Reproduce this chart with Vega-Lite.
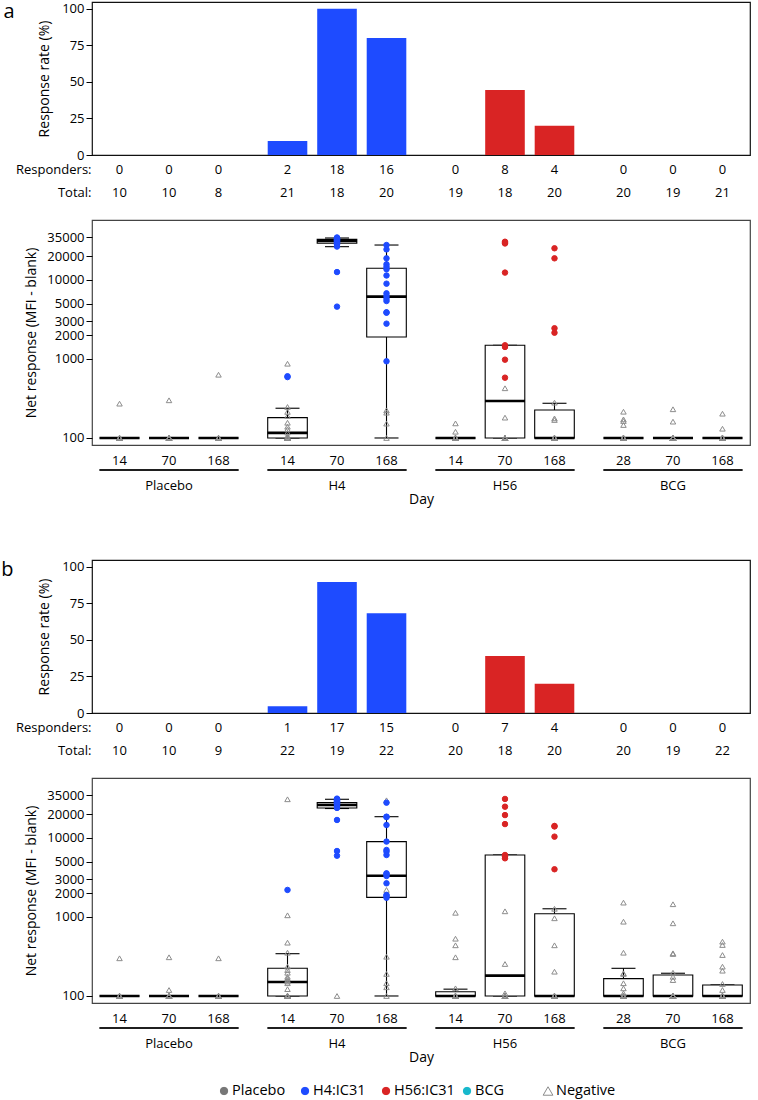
{
"$schema": "https://vega.github.io/schema/vega-lite/v6.json",
"padding": {"left": 0, "top": 1, "right": 0, "bottom": 1},
"background": "white",
"config": {
  "font": "Open Sans",
  "view": {"stroke": "#111", "strokeWidth": 1.2},
  "axis": {"labelFontSize": 13, "titleFontSize": 14, "titleFontWeight": "normal", "labelColor": "black", "titleColor": "black", "tickColor": "black", "domain": false, "grid": false, "labelFont": "Open Sans", "titleFont": "Open Sans"},
  "title": {"fontWeight": "normal", "font": "Open Sans"}
},
"datasets": {
  "leg": [{"c":"Placebo"},{"c":"H4:IC31"},{"c":"H56:IC31"},{"c":"BCG"},{"c":"Negative"}],
  "cats": [
    {"p":"a","g":"Placebo","v":1,"day":"14","r":0,"t":10,"rate":0},
    {"p":"a","g":"Placebo","v":2,"day":"70","r":0,"t":10,"rate":0},
    {"p":"a","g":"Placebo","v":3,"day":"168","r":0,"t":8,"rate":0},
    {"p":"a","g":"H4","v":1,"day":"14","r":2,"t":21,"rate":9.52},
    {"p":"a","g":"H4","v":2,"day":"70","r":18,"t":18,"rate":100},
    {"p":"a","g":"H4","v":3,"day":"168","r":16,"t":20,"rate":80},
    {"p":"a","g":"H56","v":1,"day":"14","r":0,"t":19,"rate":0},
    {"p":"a","g":"H56","v":2,"day":"70","r":8,"t":18,"rate":44.4},
    {"p":"a","g":"H56","v":3,"day":"168","r":4,"t":20,"rate":20},
    {"p":"a","g":"BCG","v":1,"day":"28","r":0,"t":20,"rate":0},
    {"p":"a","g":"BCG","v":2,"day":"70","r":0,"t":19,"rate":0},
    {"p":"a","g":"BCG","v":3,"day":"168","r":0,"t":21,"rate":0},
    {"p":"b","g":"Placebo","v":1,"day":"14","r":0,"t":10,"rate":0},
    {"p":"b","g":"Placebo","v":2,"day":"70","r":0,"t":10,"rate":0},
    {"p":"b","g":"Placebo","v":3,"day":"168","r":0,"t":9,"rate":0},
    {"p":"b","g":"H4","v":1,"day":"14","r":1,"t":22,"rate":4.55},
    {"p":"b","g":"H4","v":2,"day":"70","r":17,"t":19,"rate":89.5},
    {"p":"b","g":"H4","v":3,"day":"168","r":15,"t":22,"rate":68.2},
    {"p":"b","g":"H56","v":1,"day":"14","r":0,"t":20,"rate":0},
    {"p":"b","g":"H56","v":2,"day":"70","r":7,"t":18,"rate":38.9},
    {"p":"b","g":"H56","v":3,"day":"168","r":4,"t":20,"rate":20},
    {"p":"b","g":"BCG","v":1,"day":"28","r":0,"t":20,"rate":0},
    {"p":"b","g":"BCG","v":2,"day":"70","r":0,"t":19,"rate":0},
    {"p":"b","g":"BCG","v":3,"day":"168","r":0,"t":22,"rate":0}
  ],
  "boxes": [
    {"p":"a","g":"Placebo","v":1,"lo":100,"q1":100,"md":100,"q3":100,"hi":100},
    {"p":"a","g":"Placebo","v":2,"lo":100,"q1":100,"md":100,"q3":100,"hi":100},
    {"p":"a","g":"Placebo","v":3,"lo":100,"q1":100,"md":100,"q3":100,"hi":100},
    {"p":"a","g":"H4","v":1,"lo":100,"q1":100,"md":116,"q3":181,"hi":238},
    {"p":"a","g":"H4","v":2,"lo":26400,"q1":29200,"md":31200,"q3":32700,"hi":34000},
    {"p":"a","g":"H4","v":3,"lo":100,"q1":1900,"md":6150,"q3":14100,"hi":27700},
    {"p":"a","g":"H56","v":1,"lo":100,"q1":100,"md":100,"q3":100,"hi":100},
    {"p":"a","g":"H56","v":2,"lo":100,"q1":100,"md":294,"q3":1490,"hi":1490},
    {"p":"a","g":"H56","v":3,"lo":100,"q1":100,"md":100,"q3":226,"hi":275},
    {"p":"a","g":"BCG","v":1,"lo":100,"q1":100,"md":100,"q3":100,"hi":100},
    {"p":"a","g":"BCG","v":2,"lo":100,"q1":100,"md":100,"q3":100,"hi":100},
    {"p":"a","g":"BCG","v":3,"lo":100,"q1":100,"md":100,"q3":100,"hi":100},
    {"p":"b","g":"Placebo","v":1,"lo":100,"q1":100,"md":100,"q3":100,"hi":100},
    {"p":"b","g":"Placebo","v":2,"lo":100,"q1":100,"md":100,"q3":100,"hi":100},
    {"p":"b","g":"Placebo","v":3,"lo":100,"q1":100,"md":100,"q3":100,"hi":100},
    {"p":"b","g":"H4","v":1,"lo":100,"q1":100,"md":150,"q3":224,"hi":343},
    {"p":"b","g":"H4","v":2,"lo":23600,"q1":24000,"md":26200,"q3":28000,"hi":30900},
    {"p":"b","g":"H4","v":3,"lo":100,"q1":1770,"md":3330,"q3":9000,"hi":18600},
    {"p":"b","g":"H56","v":1,"lo":100,"q1":100,"md":100,"q3":113,"hi":122},
    {"p":"b","g":"H56","v":2,"lo":100,"q1":100,"md":181,"q3":6090,"hi":6090},
    {"p":"b","g":"H56","v":3,"lo":100,"q1":100,"md":100,"q3":1100,"hi":1270},
    {"p":"b","g":"BCG","v":1,"lo":100,"q1":100,"md":100,"q3":166,"hi":224},
    {"p":"b","g":"BCG","v":2,"lo":100,"q1":100,"md":100,"q3":184,"hi":194},
    {"p":"b","g":"BCG","v":3,"lo":100,"q1":100,"md":100,"q3":138,"hi":138}
  ],
  "pts": [
    {"p":"a","g":"Placebo","v":1,"y":272,"c":"Negative"},
    {"p":"a","g":"Placebo","v":1,"y":100,"c":"Negative"},{"p":"a","g":"Placebo","v":1,"y":100,"c":"Negative"},{"p":"a","g":"Placebo","v":1,"y":100,"c":"Negative"},{"p":"a","g":"Placebo","v":1,"y":100,"c":"Negative"},{"p":"a","g":"Placebo","v":1,"y":100,"c":"Negative"},{"p":"a","g":"Placebo","v":1,"y":100,"c":"Negative"},{"p":"a","g":"Placebo","v":1,"y":100,"c":"Negative"},{"p":"a","g":"Placebo","v":1,"y":100,"c":"Negative"},{"p":"a","g":"Placebo","v":1,"y":100,"c":"Negative"},
    {"p":"a","g":"Placebo","v":2,"y":300,"c":"Negative"},
    {"p":"a","g":"Placebo","v":2,"y":100,"c":"Negative"},{"p":"a","g":"Placebo","v":2,"y":100,"c":"Negative"},{"p":"a","g":"Placebo","v":2,"y":100,"c":"Negative"},{"p":"a","g":"Placebo","v":2,"y":100,"c":"Negative"},{"p":"a","g":"Placebo","v":2,"y":100,"c":"Negative"},{"p":"a","g":"Placebo","v":2,"y":100,"c":"Negative"},{"p":"a","g":"Placebo","v":2,"y":100,"c":"Negative"},{"p":"a","g":"Placebo","v":2,"y":100,"c":"Negative"},{"p":"a","g":"Placebo","v":2,"y":100,"c":"Negative"},
    {"p":"a","g":"Placebo","v":3,"y":632,"c":"Negative"},
    {"p":"a","g":"Placebo","v":3,"y":100,"c":"Negative"},{"p":"a","g":"Placebo","v":3,"y":100,"c":"Negative"},{"p":"a","g":"Placebo","v":3,"y":100,"c":"Negative"},{"p":"a","g":"Placebo","v":3,"y":100,"c":"Negative"},{"p":"a","g":"Placebo","v":3,"y":100,"c":"Negative"},{"p":"a","g":"Placebo","v":3,"y":100,"c":"Negative"},{"p":"a","g":"Placebo","v":3,"y":100,"c":"Negative"},
    {"p":"a","g":"H4","v":1,"y":871,"c":"Negative"},{"p":"a","g":"H4","v":1,"y":247,"c":"Negative"},{"p":"a","g":"H4","v":1,"y":214,"c":"Negative"},{"p":"a","g":"H4","v":1,"y":190,"c":"Negative"},{"p":"a","g":"H4","v":1,"y":156,"c":"Negative"},{"p":"a","g":"H4","v":1,"y":139,"c":"Negative"},{"p":"a","g":"H4","v":1,"y":129,"c":"Negative"},{"p":"a","g":"H4","v":1,"y":117,"c":"Negative"},{"p":"a","g":"H4","v":1,"y":106,"c":"Negative"},
    {"p":"a","g":"H4","v":1,"y":100,"c":"Negative"},{"p":"a","g":"H4","v":1,"y":100,"c":"Negative"},{"p":"a","g":"H4","v":1,"y":100,"c":"Negative"},{"p":"a","g":"H4","v":1,"y":100,"c":"Negative"},{"p":"a","g":"H4","v":1,"y":100,"c":"Negative"},{"p":"a","g":"H4","v":1,"y":100,"c":"Negative"},{"p":"a","g":"H4","v":1,"y":100,"c":"Negative"},{"p":"a","g":"H4","v":1,"y":100,"c":"Negative"},{"p":"a","g":"H4","v":1,"y":100,"c":"Negative"},{"p":"a","g":"H4","v":1,"y":100,"c":"Negative"},
    {"p":"a","g":"H4","v":1,"y":590,"c":"H4:IC31"},{"p":"a","g":"H4","v":1,"y":605,"c":"H4:IC31"},
    {"p":"a","g":"H4","v":2,"y":34500,"c":"H4:IC31"},{"p":"a","g":"H4","v":2,"y":34000,"c":"H4:IC31"},{"p":"a","g":"H4","v":2,"y":33500,"c":"H4:IC31"},{"p":"a","g":"H4","v":2,"y":33000,"c":"H4:IC31"},{"p":"a","g":"H4","v":2,"y":33000,"c":"H4:IC31"},{"p":"a","g":"H4","v":2,"y":32500,"c":"H4:IC31"},{"p":"a","g":"H4","v":2,"y":32000,"c":"H4:IC31"},{"p":"a","g":"H4","v":2,"y":32000,"c":"H4:IC31"},{"p":"a","g":"H4","v":2,"y":31500,"c":"H4:IC31"},{"p":"a","g":"H4","v":2,"y":31000,"c":"H4:IC31"},{"p":"a","g":"H4","v":2,"y":30500,"c":"H4:IC31"},{"p":"a","g":"H4","v":2,"y":30000,"c":"H4:IC31"},{"p":"a","g":"H4","v":2,"y":29500,"c":"H4:IC31"},{"p":"a","g":"H4","v":2,"y":29000,"c":"H4:IC31"},{"p":"a","g":"H4","v":2,"y":28000,"c":"H4:IC31"},{"p":"a","g":"H4","v":2,"y":26500,"c":"H4:IC31"},{"p":"a","g":"H4","v":2,"y":12600,"c":"H4:IC31"},{"p":"a","g":"H4","v":2,"y":4600,"c":"H4:IC31"},
    {"p":"a","g":"H4","v":3,"y":224,"c":"Negative"},{"p":"a","g":"H4","v":3,"y":209,"c":"Negative"},{"p":"a","g":"H4","v":3,"y":152,"c":"Negative"},{"p":"a","g":"H4","v":3,"y":100,"c":"Negative"},
    {"p":"a","g":"H4","v":3,"y":27700,"c":"H4:IC31"},{"p":"a","g":"H4","v":3,"y":24400,"c":"H4:IC31"},{"p":"a","g":"H4","v":3,"y":18800,"c":"H4:IC31"},{"p":"a","g":"H4","v":3,"y":15800,"c":"H4:IC31"},{"p":"a","g":"H4","v":3,"y":14700,"c":"H4:IC31"},{"p":"a","g":"H4","v":3,"y":13700,"c":"H4:IC31"},{"p":"a","g":"H4","v":3,"y":11400,"c":"H4:IC31"},{"p":"a","g":"H4","v":3,"y":8980,"c":"H4:IC31"},{"p":"a","g":"H4","v":3,"y":6780,"c":"H4:IC31"},{"p":"a","g":"H4","v":3,"y":6270,"c":"H4:IC31"},{"p":"a","g":"H4","v":3,"y":5800,"c":"H4:IC31"},{"p":"a","g":"H4","v":3,"y":5420,"c":"H4:IC31"},{"p":"a","g":"H4","v":3,"y":3900,"c":"H4:IC31"},{"p":"a","g":"H4","v":3,"y":3850,"c":"H4:IC31"},{"p":"a","g":"H4","v":3,"y":2800,"c":"H4:IC31"},{"p":"a","g":"H4","v":3,"y":935,"c":"H4:IC31"},
    {"p":"a","g":"H56","v":1,"y":153,"c":"Negative"},{"p":"a","g":"H56","v":1,"y":120,"c":"Negative"},
    {"p":"a","g":"H56","v":1,"y":100,"c":"Negative"},{"p":"a","g":"H56","v":1,"y":100,"c":"Negative"},{"p":"a","g":"H56","v":1,"y":100,"c":"Negative"},{"p":"a","g":"H56","v":1,"y":100,"c":"Negative"},{"p":"a","g":"H56","v":1,"y":100,"c":"Negative"},{"p":"a","g":"H56","v":1,"y":100,"c":"Negative"},{"p":"a","g":"H56","v":1,"y":100,"c":"Negative"},{"p":"a","g":"H56","v":1,"y":100,"c":"Negative"},{"p":"a","g":"H56","v":1,"y":100,"c":"Negative"},{"p":"a","g":"H56","v":1,"y":100,"c":"Negative"},{"p":"a","g":"H56","v":1,"y":100,"c":"Negative"},{"p":"a","g":"H56","v":1,"y":100,"c":"Negative"},{"p":"a","g":"H56","v":1,"y":100,"c":"Negative"},{"p":"a","g":"H56","v":1,"y":100,"c":"Negative"},{"p":"a","g":"H56","v":1,"y":100,"c":"Negative"},{"p":"a","g":"H56","v":1,"y":100,"c":"Negative"},{"p":"a","g":"H56","v":1,"y":100,"c":"Negative"},
    {"p":"a","g":"H56","v":2,"y":426,"c":"Negative"},{"p":"a","g":"H56","v":2,"y":181,"c":"Negative"},
    {"p":"a","g":"H56","v":2,"y":100,"c":"Negative"},{"p":"a","g":"H56","v":2,"y":100,"c":"Negative"},{"p":"a","g":"H56","v":2,"y":100,"c":"Negative"},{"p":"a","g":"H56","v":2,"y":100,"c":"Negative"},{"p":"a","g":"H56","v":2,"y":100,"c":"Negative"},{"p":"a","g":"H56","v":2,"y":100,"c":"Negative"},{"p":"a","g":"H56","v":2,"y":100,"c":"Negative"},{"p":"a","g":"H56","v":2,"y":100,"c":"Negative"},
    {"p":"a","g":"H56","v":2,"y":30500,"c":"H56:IC31"},{"p":"a","g":"H56","v":2,"y":29700,"c":"H56:IC31"},{"p":"a","g":"H56","v":2,"y":29000,"c":"H56:IC31"},{"p":"a","g":"H56","v":2,"y":12400,"c":"H56:IC31"},{"p":"a","g":"H56","v":2,"y":1490,"c":"H56:IC31"},{"p":"a","g":"H56","v":2,"y":1420,"c":"H56:IC31"},{"p":"a","g":"H56","v":2,"y":980,"c":"H56:IC31"},{"p":"a","g":"H56","v":2,"y":580,"c":"H56:IC31"},
    {"p":"a","g":"H56","v":3,"y":280,"c":"Negative"},{"p":"a","g":"H56","v":3,"y":177,"c":"Negative"},{"p":"a","g":"H56","v":3,"y":169,"c":"Negative"},
    {"p":"a","g":"H56","v":3,"y":100,"c":"Negative"},{"p":"a","g":"H56","v":3,"y":100,"c":"Negative"},{"p":"a","g":"H56","v":3,"y":100,"c":"Negative"},{"p":"a","g":"H56","v":3,"y":100,"c":"Negative"},{"p":"a","g":"H56","v":3,"y":100,"c":"Negative"},{"p":"a","g":"H56","v":3,"y":100,"c":"Negative"},{"p":"a","g":"H56","v":3,"y":100,"c":"Negative"},{"p":"a","g":"H56","v":3,"y":100,"c":"Negative"},{"p":"a","g":"H56","v":3,"y":100,"c":"Negative"},{"p":"a","g":"H56","v":3,"y":100,"c":"Negative"},{"p":"a","g":"H56","v":3,"y":100,"c":"Negative"},{"p":"a","g":"H56","v":3,"y":100,"c":"Negative"},{"p":"a","g":"H56","v":3,"y":100,"c":"Negative"},
    {"p":"a","g":"H56","v":3,"y":25200,"c":"H56:IC31"},{"p":"a","g":"H56","v":3,"y":18800,"c":"H56:IC31"},{"p":"a","g":"H56","v":3,"y":2450,"c":"H56:IC31"},{"p":"a","g":"H56","v":3,"y":2150,"c":"H56:IC31"},
    {"p":"a","g":"BCG","v":1,"y":215,"c":"Negative"},{"p":"a","g":"BCG","v":1,"y":172,"c":"Negative"},{"p":"a","g":"BCG","v":1,"y":164,"c":"Negative"},{"p":"a","g":"BCG","v":1,"y":146,"c":"Negative"},
    {"p":"a","g":"BCG","v":1,"y":100,"c":"Negative"},{"p":"a","g":"BCG","v":1,"y":100,"c":"Negative"},{"p":"a","g":"BCG","v":1,"y":100,"c":"Negative"},{"p":"a","g":"BCG","v":1,"y":100,"c":"Negative"},{"p":"a","g":"BCG","v":1,"y":100,"c":"Negative"},{"p":"a","g":"BCG","v":1,"y":100,"c":"Negative"},{"p":"a","g":"BCG","v":1,"y":100,"c":"Negative"},{"p":"a","g":"BCG","v":1,"y":100,"c":"Negative"},{"p":"a","g":"BCG","v":1,"y":100,"c":"Negative"},{"p":"a","g":"BCG","v":1,"y":100,"c":"Negative"},{"p":"a","g":"BCG","v":1,"y":100,"c":"Negative"},{"p":"a","g":"BCG","v":1,"y":100,"c":"Negative"},{"p":"a","g":"BCG","v":1,"y":100,"c":"Negative"},{"p":"a","g":"BCG","v":1,"y":100,"c":"Negative"},{"p":"a","g":"BCG","v":1,"y":100,"c":"Negative"},{"p":"a","g":"BCG","v":1,"y":100,"c":"Negative"},
    {"p":"a","g":"BCG","v":2,"y":231,"c":"Negative"},{"p":"a","g":"BCG","v":2,"y":161,"c":"Negative"},
    {"p":"a","g":"BCG","v":2,"y":100,"c":"Negative"},{"p":"a","g":"BCG","v":2,"y":100,"c":"Negative"},{"p":"a","g":"BCG","v":2,"y":100,"c":"Negative"},{"p":"a","g":"BCG","v":2,"y":100,"c":"Negative"},{"p":"a","g":"BCG","v":2,"y":100,"c":"Negative"},{"p":"a","g":"BCG","v":2,"y":100,"c":"Negative"},{"p":"a","g":"BCG","v":2,"y":100,"c":"Negative"},{"p":"a","g":"BCG","v":2,"y":100,"c":"Negative"},{"p":"a","g":"BCG","v":2,"y":100,"c":"Negative"},{"p":"a","g":"BCG","v":2,"y":100,"c":"Negative"},{"p":"a","g":"BCG","v":2,"y":100,"c":"Negative"},{"p":"a","g":"BCG","v":2,"y":100,"c":"Negative"},{"p":"a","g":"BCG","v":2,"y":100,"c":"Negative"},{"p":"a","g":"BCG","v":2,"y":100,"c":"Negative"},{"p":"a","g":"BCG","v":2,"y":100,"c":"Negative"},{"p":"a","g":"BCG","v":2,"y":100,"c":"Negative"},{"p":"a","g":"BCG","v":2,"y":100,"c":"Negative"},
    {"p":"a","g":"BCG","v":3,"y":203,"c":"Negative"},{"p":"a","g":"BCG","v":3,"y":131,"c":"Negative"},
    {"p":"a","g":"BCG","v":3,"y":100,"c":"Negative"},{"p":"a","g":"BCG","v":3,"y":100,"c":"Negative"},{"p":"a","g":"BCG","v":3,"y":100,"c":"Negative"},{"p":"a","g":"BCG","v":3,"y":100,"c":"Negative"},{"p":"a","g":"BCG","v":3,"y":100,"c":"Negative"},{"p":"a","g":"BCG","v":3,"y":100,"c":"Negative"},{"p":"a","g":"BCG","v":3,"y":100,"c":"Negative"},{"p":"a","g":"BCG","v":3,"y":100,"c":"Negative"},{"p":"a","g":"BCG","v":3,"y":100,"c":"Negative"},{"p":"a","g":"BCG","v":3,"y":100,"c":"Negative"},{"p":"a","g":"BCG","v":3,"y":100,"c":"Negative"},{"p":"a","g":"BCG","v":3,"y":100,"c":"Negative"},{"p":"a","g":"BCG","v":3,"y":100,"c":"Negative"},{"p":"a","g":"BCG","v":3,"y":100,"c":"Negative"},{"p":"a","g":"BCG","v":3,"y":100,"c":"Negative"},{"p":"a","g":"BCG","v":3,"y":100,"c":"Negative"},{"p":"a","g":"BCG","v":3,"y":100,"c":"Negative"},{"p":"a","g":"BCG","v":3,"y":100,"c":"Negative"},{"p":"a","g":"BCG","v":3,"y":100,"c":"Negative"},

    {"p":"b","g":"Placebo","v":1,"y":300,"c":"Negative"},
    {"p":"b","g":"Placebo","v":1,"y":100,"c":"Negative"},{"p":"b","g":"Placebo","v":1,"y":100,"c":"Negative"},{"p":"b","g":"Placebo","v":1,"y":100,"c":"Negative"},{"p":"b","g":"Placebo","v":1,"y":100,"c":"Negative"},{"p":"b","g":"Placebo","v":1,"y":100,"c":"Negative"},{"p":"b","g":"Placebo","v":1,"y":100,"c":"Negative"},{"p":"b","g":"Placebo","v":1,"y":100,"c":"Negative"},{"p":"b","g":"Placebo","v":1,"y":100,"c":"Negative"},{"p":"b","g":"Placebo","v":1,"y":100,"c":"Negative"},
    {"p":"b","g":"Placebo","v":2,"y":309,"c":"Negative"},{"p":"b","g":"Placebo","v":2,"y":119,"c":"Negative"},
    {"p":"b","g":"Placebo","v":2,"y":100,"c":"Negative"},{"p":"b","g":"Placebo","v":2,"y":100,"c":"Negative"},{"p":"b","g":"Placebo","v":2,"y":100,"c":"Negative"},{"p":"b","g":"Placebo","v":2,"y":100,"c":"Negative"},{"p":"b","g":"Placebo","v":2,"y":100,"c":"Negative"},{"p":"b","g":"Placebo","v":2,"y":100,"c":"Negative"},{"p":"b","g":"Placebo","v":2,"y":100,"c":"Negative"},{"p":"b","g":"Placebo","v":2,"y":100,"c":"Negative"},
    {"p":"b","g":"Placebo","v":3,"y":300,"c":"Negative"},
    {"p":"b","g":"Placebo","v":3,"y":100,"c":"Negative"},{"p":"b","g":"Placebo","v":3,"y":100,"c":"Negative"},{"p":"b","g":"Placebo","v":3,"y":100,"c":"Negative"},{"p":"b","g":"Placebo","v":3,"y":100,"c":"Negative"},{"p":"b","g":"Placebo","v":3,"y":100,"c":"Negative"},{"p":"b","g":"Placebo","v":3,"y":100,"c":"Negative"},{"p":"b","g":"Placebo","v":3,"y":100,"c":"Negative"},{"p":"b","g":"Placebo","v":3,"y":100,"c":"Negative"},
    {"p":"b","g":"H4","v":1,"y":30900,"c":"Negative"},{"p":"b","g":"H4","v":1,"y":1050,"c":"Negative"},{"p":"b","g":"H4","v":1,"y":473,"c":"Negative"},{"p":"b","g":"H4","v":1,"y":353,"c":"Negative"},{"p":"b","g":"H4","v":1,"y":235,"c":"Negative"},{"p":"b","g":"H4","v":1,"y":213,"c":"Negative"},{"p":"b","g":"H4","v":1,"y":197,"c":"Negative"},{"p":"b","g":"H4","v":1,"y":175,"c":"Negative"},{"p":"b","g":"H4","v":1,"y":167,"c":"Negative"},{"p":"b","g":"H4","v":1,"y":159,"c":"Negative"},{"p":"b","g":"H4","v":1,"y":152,"c":"Negative"},{"p":"b","g":"H4","v":1,"y":145,"c":"Negative"},{"p":"b","g":"H4","v":1,"y":122,"c":"Negative"},
    {"p":"b","g":"H4","v":1,"y":100,"c":"Negative"},{"p":"b","g":"H4","v":1,"y":100,"c":"Negative"},{"p":"b","g":"H4","v":1,"y":100,"c":"Negative"},{"p":"b","g":"H4","v":1,"y":100,"c":"Negative"},{"p":"b","g":"H4","v":1,"y":100,"c":"Negative"},{"p":"b","g":"H4","v":1,"y":100,"c":"Negative"},{"p":"b","g":"H4","v":1,"y":100,"c":"Negative"},{"p":"b","g":"H4","v":1,"y":100,"c":"Negative"},
    {"p":"b","g":"H4","v":1,"y":2200,"c":"H4:IC31"},
    {"p":"b","g":"H4","v":2,"y":31000,"c":"Negative"},{"p":"b","g":"H4","v":2,"y":100,"c":"Negative"},
    {"p":"b","g":"H4","v":2,"y":31500,"c":"H4:IC31"},{"p":"b","g":"H4","v":2,"y":31000,"c":"H4:IC31"},{"p":"b","g":"H4","v":2,"y":30500,"c":"H4:IC31"},{"p":"b","g":"H4","v":2,"y":30000,"c":"H4:IC31"},{"p":"b","g":"H4","v":2,"y":29500,"c":"H4:IC31"},{"p":"b","g":"H4","v":2,"y":29000,"c":"H4:IC31"},{"p":"b","g":"H4","v":2,"y":28500,"c":"H4:IC31"},{"p":"b","g":"H4","v":2,"y":28000,"c":"H4:IC31"},{"p":"b","g":"H4","v":2,"y":27500,"c":"H4:IC31"},{"p":"b","g":"H4","v":2,"y":27000,"c":"H4:IC31"},{"p":"b","g":"H4","v":2,"y":26500,"c":"H4:IC31"},{"p":"b","g":"H4","v":2,"y":26000,"c":"H4:IC31"},{"p":"b","g":"H4","v":2,"y":25000,"c":"H4:IC31"},{"p":"b","g":"H4","v":2,"y":24000,"c":"H4:IC31"},{"p":"b","g":"H4","v":2,"y":16900,"c":"H4:IC31"},{"p":"b","g":"H4","v":2,"y":6840,"c":"H4:IC31"},{"p":"b","g":"H4","v":2,"y":5970,"c":"H4:IC31"},
    {"p":"b","g":"H4","v":3,"y":30000,"c":"Negative"},{"p":"b","g":"H4","v":3,"y":2200,"c":"Negative"},{"p":"b","g":"H4","v":3,"y":314,"c":"Negative"},{"p":"b","g":"H4","v":3,"y":190,"c":"Negative"},{"p":"b","g":"H4","v":3,"y":145,"c":"Negative"},{"p":"b","g":"H4","v":3,"y":129,"c":"Negative"},{"p":"b","g":"H4","v":3,"y":100,"c":"Negative"},
    {"p":"b","g":"H4","v":3,"y":28000,"c":"H4:IC31"},{"p":"b","g":"H4","v":3,"y":18600,"c":"H4:IC31"},{"p":"b","g":"H4","v":3,"y":18400,"c":"H4:IC31"},{"p":"b","g":"H4","v":3,"y":14600,"c":"H4:IC31"},{"p":"b","g":"H4","v":3,"y":9000,"c":"H4:IC31"},{"p":"b","g":"H4","v":3,"y":7050,"c":"H4:IC31"},{"p":"b","g":"H4","v":3,"y":6710,"c":"H4:IC31"},{"p":"b","g":"H4","v":3,"y":6090,"c":"H4:IC31"},{"p":"b","g":"H4","v":3,"y":3570,"c":"H4:IC31"},{"p":"b","g":"H4","v":3,"y":3500,"c":"H4:IC31"},{"p":"b","g":"H4","v":3,"y":3300,"c":"H4:IC31"},{"p":"b","g":"H4","v":3,"y":2670,"c":"H4:IC31"},{"p":"b","g":"H4","v":3,"y":1900,"c":"H4:IC31"},{"p":"b","g":"H4","v":3,"y":1850,"c":"H4:IC31"},{"p":"b","g":"H4","v":3,"y":1750,"c":"H4:IC31"},
    {"p":"b","g":"H56","v":1,"y":1130,"c":"Negative"},{"p":"b","g":"H56","v":1,"y":531,"c":"Negative"},{"p":"b","g":"H56","v":1,"y":438,"c":"Negative"},{"p":"b","g":"H56","v":1,"y":309,"c":"Negative"},{"p":"b","g":"H56","v":1,"y":125,"c":"Negative"},
    {"p":"b","g":"H56","v":1,"y":100,"c":"Negative"},{"p":"b","g":"H56","v":1,"y":100,"c":"Negative"},{"p":"b","g":"H56","v":1,"y":100,"c":"Negative"},{"p":"b","g":"H56","v":1,"y":100,"c":"Negative"},{"p":"b","g":"H56","v":1,"y":100,"c":"Negative"},{"p":"b","g":"H56","v":1,"y":100,"c":"Negative"},{"p":"b","g":"H56","v":1,"y":100,"c":"Negative"},{"p":"b","g":"H56","v":1,"y":100,"c":"Negative"},{"p":"b","g":"H56","v":1,"y":100,"c":"Negative"},{"p":"b","g":"H56","v":1,"y":100,"c":"Negative"},{"p":"b","g":"H56","v":1,"y":100,"c":"Negative"},{"p":"b","g":"H56","v":1,"y":100,"c":"Negative"},{"p":"b","g":"H56","v":1,"y":100,"c":"Negative"},{"p":"b","g":"H56","v":1,"y":100,"c":"Negative"},{"p":"b","g":"H56","v":1,"y":100,"c":"Negative"},
    {"p":"b","g":"H56","v":2,"y":1180,"c":"Negative"},{"p":"b","g":"H56","v":2,"y":254,"c":"Negative"},{"p":"b","g":"H56","v":2,"y":108,"c":"Negative"},
    {"p":"b","g":"H56","v":2,"y":100,"c":"Negative"},{"p":"b","g":"H56","v":2,"y":100,"c":"Negative"},{"p":"b","g":"H56","v":2,"y":100,"c":"Negative"},{"p":"b","g":"H56","v":2,"y":100,"c":"Negative"},{"p":"b","g":"H56","v":2,"y":100,"c":"Negative"},{"p":"b","g":"H56","v":2,"y":100,"c":"Negative"},{"p":"b","g":"H56","v":2,"y":100,"c":"Negative"},{"p":"b","g":"H56","v":2,"y":100,"c":"Negative"},
    {"p":"b","g":"H56","v":2,"y":31200,"c":"H56:IC31"},{"p":"b","g":"H56","v":2,"y":24900,"c":"H56:IC31"},{"p":"b","g":"H56","v":2,"y":19500,"c":"H56:IC31"},{"p":"b","g":"H56","v":2,"y":15000,"c":"H56:IC31"},{"p":"b","g":"H56","v":2,"y":6090,"c":"H56:IC31"},{"p":"b","g":"H56","v":2,"y":5800,"c":"H56:IC31"},{"p":"b","g":"H56","v":2,"y":5530,"c":"H56:IC31"},
    {"p":"b","g":"H56","v":3,"y":1270,"c":"Negative"},{"p":"b","g":"H56","v":3,"y":963,"c":"Negative"},{"p":"b","g":"H56","v":3,"y":438,"c":"Negative"},{"p":"b","g":"H56","v":3,"y":203,"c":"Negative"},
    {"p":"b","g":"H56","v":3,"y":100,"c":"Negative"},{"p":"b","g":"H56","v":3,"y":100,"c":"Negative"},{"p":"b","g":"H56","v":3,"y":100,"c":"Negative"},{"p":"b","g":"H56","v":3,"y":100,"c":"Negative"},{"p":"b","g":"H56","v":3,"y":100,"c":"Negative"},{"p":"b","g":"H56","v":3,"y":100,"c":"Negative"},{"p":"b","g":"H56","v":3,"y":100,"c":"Negative"},{"p":"b","g":"H56","v":3,"y":100,"c":"Negative"},{"p":"b","g":"H56","v":3,"y":100,"c":"Negative"},{"p":"b","g":"H56","v":3,"y":100,"c":"Negative"},{"p":"b","g":"H56","v":3,"y":100,"c":"Negative"},{"p":"b","g":"H56","v":3,"y":100,"c":"Negative"},
    {"p":"b","g":"H56","v":3,"y":14200,"c":"H56:IC31"},{"p":"b","g":"H56","v":3,"y":14000,"c":"H56:IC31"},{"p":"b","g":"H56","v":3,"y":10400,"c":"H56:IC31"},{"p":"b","g":"H56","v":3,"y":4020,"c":"H56:IC31"},
    {"p":"b","g":"BCG","v":1,"y":1520,"c":"Negative"},{"p":"b","g":"BCG","v":1,"y":872,"c":"Negative"},{"p":"b","g":"BCG","v":1,"y":353,"c":"Negative"},{"p":"b","g":"BCG","v":1,"y":194,"c":"Negative"},{"p":"b","g":"BCG","v":1,"y":190,"c":"Negative"},{"p":"b","g":"BCG","v":1,"y":145,"c":"Negative"},{"p":"b","g":"BCG","v":1,"y":125,"c":"Negative"},{"p":"b","g":"BCG","v":1,"y":108,"c":"Negative"},
    {"p":"b","g":"BCG","v":1,"y":100,"c":"Negative"},{"p":"b","g":"BCG","v":1,"y":100,"c":"Negative"},{"p":"b","g":"BCG","v":1,"y":100,"c":"Negative"},{"p":"b","g":"BCG","v":1,"y":100,"c":"Negative"},{"p":"b","g":"BCG","v":1,"y":100,"c":"Negative"},{"p":"b","g":"BCG","v":1,"y":100,"c":"Negative"},{"p":"b","g":"BCG","v":1,"y":100,"c":"Negative"},{"p":"b","g":"BCG","v":1,"y":100,"c":"Negative"},{"p":"b","g":"BCG","v":1,"y":100,"c":"Negative"},{"p":"b","g":"BCG","v":1,"y":100,"c":"Negative"},{"p":"b","g":"BCG","v":1,"y":100,"c":"Negative"},{"p":"b","g":"BCG","v":1,"y":100,"c":"Negative"},
    {"p":"b","g":"BCG","v":2,"y":1450,"c":"Negative"},{"p":"b","g":"BCG","v":2,"y":832,"c":"Negative"},{"p":"b","g":"BCG","v":2,"y":347,"c":"Negative"},{"p":"b","g":"BCG","v":2,"y":340,"c":"Negative"},{"p":"b","g":"BCG","v":2,"y":197,"c":"Negative"},{"p":"b","g":"BCG","v":2,"y":175,"c":"Negative"},{"p":"b","g":"BCG","v":2,"y":159,"c":"Negative"},
    {"p":"b","g":"BCG","v":2,"y":100,"c":"Negative"},{"p":"b","g":"BCG","v":2,"y":100,"c":"Negative"},{"p":"b","g":"BCG","v":2,"y":100,"c":"Negative"},{"p":"b","g":"BCG","v":2,"y":100,"c":"Negative"},{"p":"b","g":"BCG","v":2,"y":100,"c":"Negative"},{"p":"b","g":"BCG","v":2,"y":100,"c":"Negative"},{"p":"b","g":"BCG","v":2,"y":100,"c":"Negative"},{"p":"b","g":"BCG","v":2,"y":100,"c":"Negative"},{"p":"b","g":"BCG","v":2,"y":100,"c":"Negative"},{"p":"b","g":"BCG","v":2,"y":100,"c":"Negative"},{"p":"b","g":"BCG","v":2,"y":100,"c":"Negative"},{"p":"b","g":"BCG","v":2,"y":100,"c":"Negative"},
    {"p":"b","g":"BCG","v":3,"y":487,"c":"Negative"},{"p":"b","g":"BCG","v":3,"y":442,"c":"Negative"},{"p":"b","g":"BCG","v":3,"y":330,"c":"Negative"},{"p":"b","g":"BCG","v":3,"y":235,"c":"Negative"},{"p":"b","g":"BCG","v":3,"y":209,"c":"Negative"},{"p":"b","g":"BCG","v":3,"y":142,"c":"Negative"},{"p":"b","g":"BCG","v":3,"y":119,"c":"Negative"},
    {"p":"b","g":"BCG","v":3,"y":100,"c":"Negative"},{"p":"b","g":"BCG","v":3,"y":100,"c":"Negative"},{"p":"b","g":"BCG","v":3,"y":100,"c":"Negative"},{"p":"b","g":"BCG","v":3,"y":100,"c":"Negative"},{"p":"b","g":"BCG","v":3,"y":100,"c":"Negative"},{"p":"b","g":"BCG","v":3,"y":100,"c":"Negative"},{"p":"b","g":"BCG","v":3,"y":100,"c":"Negative"},{"p":"b","g":"BCG","v":3,"y":100,"c":"Negative"},{"p":"b","g":"BCG","v":3,"y":100,"c":"Negative"},{"p":"b","g":"BCG","v":3,"y":100,"c":"Negative"},{"p":"b","g":"BCG","v":3,"y":100,"c":"Negative"},{"p":"b","g":"BCG","v":3,"y":100,"c":"Negative"},{"p":"b","g":"BCG","v":3,"y":100,"c":"Negative"},{"p":"b","g":"BCG","v":3,"y":100,"c":"Negative"},{"p":"b","g":"BCG","v":3,"y":100,"c":"Negative"}
  ]
},
"columns": 1,
"align": "none",
"spacing": 53,
"resolve": {"scale": {"x": "independent", "y": "independent"}},
"concat": [
 {
  "spacing": 0, "bounds": "flush",
  "resolve": {"scale": {"y": "independent"}},
  "vconcat": [
   {
    "data": {"name": "cats"}, "transform": [{"filter": "datum.p == 'a'"}],
    "width": 658, "height": 153,
    "title": {"text": "a", "orient": "left", "anchor": "end", "angle": 0, "align": "right", "baseline": "top", "frame": "group", "fontSize": 20, "offset": 12},
    "mark": {"type": "bar"},
    "encoding": {
      "x": {"field": "g", "type": "nominal", "sort": null, "scale": {"domain": ["Placebo","H4","H56","BCG"], "paddingInner": 0.116, "paddingOuter": 0.0165}, "axis": null},
      "xOffset": {"field": "v", "type": "ordinal", "scale": {"domain": [1,2,3], "paddingInner": 0.2, "paddingOuter": 0.1}},
      "y": {"field": "rate", "type": "quantitative", "scale": {"domain": [0, 104.6], "nice": false}, "axis": {"values": [0,25,50,75,100], "title": "Response rate (%)", "tickSize": 6, "labelPadding": 2, "titlePadding": 10}},
      "color": {"field": "g", "type": "nominal", "scale": {"domain": ["Placebo","H4","H56","BCG"], "range": ["#777777","#1E4BFF","#D92424","#17B8CC"]}, "legend": null}
    }
   },
   {
    "data": {"name": "cats"}, "transform": [{"filter": "datum.p == 'a'"}],
    "width": 658, "height": 65, "view": {"stroke": null},
    "encoding": {
      "x": {"field": "g", "type": "nominal", "sort": null, "scale": {"domain": ["Placebo","H4","H56","BCG"], "paddingInner": 0.116, "paddingOuter": 0.0165}, "axis": null},
      "xOffset": {"field": "v", "type": "ordinal", "scale": {"domain": [1,2,3], "paddingInner": 0.2, "paddingOuter": 0.1}}
    },
    "layer": [
      {"mark": {"type": "text", "fontSize": 13}, "encoding": {"y": {"datum": "Responders:", "type": "nominal", "scale": {"type": "point", "domain": ["Responders:","Total:"], "padding": 0.913, "align": 0.357}, "axis": {"title": null, "ticks": false, "domain": false, "labelPadding": 1}}, "text": {"field": "r", "type": "quantitative", "format": "d"}}},
      {"mark": {"type": "text", "fontSize": 13}, "encoding": {"y": {"datum": "Total:", "type": "nominal", "scale": {"type": "point", "domain": ["Responders:","Total:"], "padding": 0.913, "align": 0.357}, "axis": {"title": null, "ticks": false, "domain": false, "labelPadding": 1}}, "text": {"field": "t", "type": "quantitative", "format": "d"}}}
    ]
   },
   {
    "width": 658, "height": 225, "view": {"stroke": "#444"},
    "encoding": {
      "x": {"field": "g", "type": "nominal", "sort": null, "scale": {"domain": ["Placebo","H4","H56","BCG"], "paddingInner": 0.116, "paddingOuter": 0.0165}, "axis": null},
      "xOffset": {"field": "v", "type": "ordinal", "scale": {"domain": [1,2,3], "paddingInner": 0.2, "paddingOuter": 0.1}}
    },
    "layer": [
      {"data": {"name": "boxes"}, "transform": [{"filter": "datum.p == 'a'"}], "mark": {"type": "rule", "color": "black", "strokeWidth": 1.1},
       "encoding": {"y": {"field": "lo", "type": "quantitative", "scale": {"type": "log", "domain": [81.5, 57450], "nice": false}, "axis": {"values": [100,1000,2000,3000,5000,10000,20000,35000], "format": "d", "title": "Net response (MFI - blank)", "tickSize": 6, "labelPadding": 2, "titlePadding": 8}}, "y2": {"field": "hi"}}},
      {"data": {"name": "boxes"}, "transform": [{"filter": "datum.p == 'a'"}], "mark": {"type": "tick", "orient": "horizontal", "size": 24, "thickness": 1.1, "color": "black", "opacity": 1},
       "encoding": {"y": {"field": "lo", "type": "quantitative", "scale": {"type": "log", "domain": [81.5, 57450], "nice": false}, "axis": {"values": [100,1000,2000,3000,5000,10000,20000,35000], "format": "d", "title": "Net response (MFI - blank)", "tickSize": 6, "labelPadding": 2, "titlePadding": 8}}}},
      {"data": {"name": "boxes"}, "transform": [{"filter": "datum.p == 'a'"}], "mark": {"type": "tick", "orient": "horizontal", "size": 24, "thickness": 1.1, "color": "black", "opacity": 1},
       "encoding": {"y": {"field": "hi", "type": "quantitative", "scale": {"type": "log", "domain": [81.5, 57450], "nice": false}, "axis": {"values": [100,1000,2000,3000,5000,10000,20000,35000], "format": "d", "title": "Net response (MFI - blank)", "tickSize": 6, "labelPadding": 2, "titlePadding": 8}}}},
      {"data": {"name": "boxes"}, "transform": [{"filter": "datum.p == 'a'"}], "mark": {"type": "bar", "fill": "white", "stroke": "black", "strokeWidth": 1.1},
       "encoding": {"y": {"field": "q1", "type": "quantitative", "scale": {"type": "log", "domain": [81.5, 57450], "nice": false}, "axis": {"values": [100,1000,2000,3000,5000,10000,20000,35000], "format": "d", "title": "Net response (MFI - blank)", "tickSize": 6, "labelPadding": 2, "titlePadding": 8}}, "y2": {"field": "q3"}}},
      {"data": {"name": "boxes"}, "transform": [{"filter": "datum.p == 'a'"}], "mark": {"type": "tick", "orient": "horizontal", "size": 40, "thickness": 2.6, "color": "black", "opacity": 1},
       "encoding": {"y": {"field": "md", "type": "quantitative", "scale": {"type": "log", "domain": [81.5, 57450], "nice": false}, "axis": {"values": [100,1000,2000,3000,5000,10000,20000,35000], "format": "d", "title": "Net response (MFI - blank)", "tickSize": 6, "labelPadding": 2, "titlePadding": 8}}}},
      {"data": {"name": "pts"}, "transform": [{"filter": "datum.p == 'a'"}], "mark": {"type": "point", "opacity": 1, "strokeWidth": 1},
       "encoding": {
         "y": {"field": "y", "type": "quantitative", "scale": {"type": "log", "domain": [81.5, 57450], "nice": false}, "axis": {"values": [100,1000,2000,3000,5000,10000,20000,35000], "format": "d", "title": "Net response (MFI - blank)", "tickSize": 6, "labelPadding": 2, "titlePadding": 8}},
         "fill": {"field": "c", "type": "nominal", "scale": {"domain": ["Placebo","H4:IC31","H56:IC31","BCG","Negative"], "range": ["#777777","#1E4BFF","#D92424","#17B8CC","transparent"]}, "legend": null},
         "stroke": {"field": "c", "type": "nominal", "scale": {"domain": ["Placebo","H4:IC31","H56:IC31","BCG","Negative"], "range": ["#777777","#1E4BFF","#D92424","#17B8CC","#8C8C8C"]}, "legend": null},
         "shape": {"field": "c", "type": "nominal", "scale": {"domain": ["Placebo","H4:IC31","H56:IC31","BCG","Negative"], "range": ["circle","circle","circle","circle","triangle-up"]}, "legend": null},
         "size": {"field": "c", "type": "nominal", "scale": {"domain": ["Placebo","H4:IC31","H56:IC31","BCG","Negative"], "range": [30,30,30,30,55]}, "legend": null}
       }}
    ]
   },
   {
    "data": {"name": "cats"}, "transform": [{"filter": "datum.p == 'a'"}],
    "width": 658, "height": 25, "view": {"stroke": null},
    "encoding": {
      "x": {"field": "g", "type": "nominal", "sort": null, "scale": {"domain": ["Placebo","H4","H56","BCG"], "paddingInner": 0.116, "paddingOuter": 0.0165}, "axis": {"orient": "bottom", "domain": false, "ticks": false, "labelPadding": 9, "labelAngle": 0, "title": "Day", "titlePadding": 0}}
    },
    "layer": [
      {"mark": {"type": "text", "fontSize": 13, "baseline": "middle"}, "encoding": {"xOffset": {"field": "v", "type": "ordinal", "scale": {"domain": [1,2,3], "paddingInner": 0.2, "paddingOuter": 0.1}}, "y": {"datum": "day", "type": "nominal", "scale": {"type": "point", "domain": ["day","line"], "padding": 0.889, "align": 1}, "axis": null}, "text": {"field": "day", "type": "nominal"}}},
      {"mark": {"type": "tick", "orient": "horizontal", "size": 139, "thickness": 1.1, "color": "black", "opacity": 1}, "encoding": {"y": {"datum": "line", "type": "nominal", "scale": {"type": "point", "domain": ["day","line"], "padding": 0.889, "align": 1}, "axis": null}}}
    ]
   }
  ]
 },
 {
  "spacing": 0, "bounds": "flush",
  "resolve": {"scale": {"x": "independent", "y": "independent"}},
  "vconcat": [
   {
    "data": {"name": "cats"}, "transform": [{"filter": "datum.p == 'b'"}],
    "width": 658, "height": 153,
    "title": {"text": "b", "orient": "left", "anchor": "end", "angle": 0, "align": "right", "baseline": "top", "frame": "group", "fontSize": 20, "offset": 12},
    "mark": {"type": "bar"},
    "encoding": {
      "x": {"field": "g", "type": "nominal", "sort": null, "scale": {"domain": ["Placebo","H4","H56","BCG"], "paddingInner": 0.116, "paddingOuter": 0.0165}, "axis": null},
      "xOffset": {"field": "v", "type": "ordinal", "scale": {"domain": [1,2,3], "paddingInner": 0.2, "paddingOuter": 0.1}},
      "y": {"field": "rate", "type": "quantitative", "scale": {"domain": [0, 104.6], "nice": false}, "axis": {"values": [0,25,50,75,100], "title": "Response rate (%)", "tickSize": 6, "labelPadding": 2, "titlePadding": 10}},
      "color": {"field": "g", "type": "nominal", "scale": {"domain": ["Placebo","H4","H56","BCG"], "range": ["#777777","#1E4BFF","#D92424","#17B8CC"]}, "legend": null}
    }
   },
   {
    "data": {"name": "cats"}, "transform": [{"filter": "datum.p == 'b'"}],
    "width": 658, "height": 65, "view": {"stroke": null},
    "encoding": {
      "x": {"field": "g", "type": "nominal", "sort": null, "scale": {"domain": ["Placebo","H4","H56","BCG"], "paddingInner": 0.116, "paddingOuter": 0.0165}, "axis": null},
      "xOffset": {"field": "v", "type": "ordinal", "scale": {"domain": [1,2,3], "paddingInner": 0.2, "paddingOuter": 0.1}}
    },
    "layer": [
      {"mark": {"type": "text", "fontSize": 13}, "encoding": {"y": {"datum": "Responders:", "type": "nominal", "scale": {"type": "point", "domain": ["Responders:","Total:"], "padding": 0.913, "align": 0.357}, "axis": {"title": null, "ticks": false, "domain": false, "labelPadding": 1}}, "text": {"field": "r", "type": "quantitative", "format": "d"}}},
      {"mark": {"type": "text", "fontSize": 13}, "encoding": {"y": {"datum": "Total:", "type": "nominal", "scale": {"type": "point", "domain": ["Responders:","Total:"], "padding": 0.913, "align": 0.357}, "axis": {"title": null, "ticks": false, "domain": false, "labelPadding": 1}}, "text": {"field": "t", "type": "quantitative", "format": "d"}}}
    ]
   },
   {
    "width": 658, "height": 225, "view": {"stroke": "#444"},
    "encoding": {
      "x": {"field": "g", "type": "nominal", "sort": null, "scale": {"domain": ["Placebo","H4","H56","BCG"], "paddingInner": 0.116, "paddingOuter": 0.0165}, "axis": null},
      "xOffset": {"field": "v", "type": "ordinal", "scale": {"domain": [1,2,3], "paddingInner": 0.2, "paddingOuter": 0.1}}
    },
    "layer": [
      {"data": {"name": "boxes"}, "transform": [{"filter": "datum.p == 'b'"}], "mark": {"type": "rule", "color": "black", "strokeWidth": 1.1},
       "encoding": {"y": {"field": "lo", "type": "quantitative", "scale": {"type": "log", "domain": [81.5, 57450], "nice": false}, "axis": {"values": [100,1000,2000,3000,5000,10000,20000,35000], "format": "d", "title": "Net response (MFI - blank)", "tickSize": 6, "labelPadding": 2, "titlePadding": 8}}, "y2": {"field": "hi"}}},
      {"data": {"name": "boxes"}, "transform": [{"filter": "datum.p == 'b'"}], "mark": {"type": "tick", "orient": "horizontal", "size": 24, "thickness": 1.1, "color": "black", "opacity": 1},
       "encoding": {"y": {"field": "lo", "type": "quantitative", "scale": {"type": "log", "domain": [81.5, 57450], "nice": false}, "axis": {"values": [100,1000,2000,3000,5000,10000,20000,35000], "format": "d", "title": "Net response (MFI - blank)", "tickSize": 6, "labelPadding": 2, "titlePadding": 8}}}},
      {"data": {"name": "boxes"}, "transform": [{"filter": "datum.p == 'b'"}], "mark": {"type": "tick", "orient": "horizontal", "size": 24, "thickness": 1.1, "color": "black", "opacity": 1},
       "encoding": {"y": {"field": "hi", "type": "quantitative", "scale": {"type": "log", "domain": [81.5, 57450], "nice": false}, "axis": {"values": [100,1000,2000,3000,5000,10000,20000,35000], "format": "d", "title": "Net response (MFI - blank)", "tickSize": 6, "labelPadding": 2, "titlePadding": 8}}}},
      {"data": {"name": "boxes"}, "transform": [{"filter": "datum.p == 'b'"}], "mark": {"type": "bar", "fill": "white", "stroke": "black", "strokeWidth": 1.1},
       "encoding": {"y": {"field": "q1", "type": "quantitative", "scale": {"type": "log", "domain": [81.5, 57450], "nice": false}, "axis": {"values": [100,1000,2000,3000,5000,10000,20000,35000], "format": "d", "title": "Net response (MFI - blank)", "tickSize": 6, "labelPadding": 2, "titlePadding": 8}}, "y2": {"field": "q3"}}},
      {"data": {"name": "boxes"}, "transform": [{"filter": "datum.p == 'b'"}], "mark": {"type": "tick", "orient": "horizontal", "size": 40, "thickness": 2.6, "color": "black", "opacity": 1},
       "encoding": {"y": {"field": "md", "type": "quantitative", "scale": {"type": "log", "domain": [81.5, 57450], "nice": false}, "axis": {"values": [100,1000,2000,3000,5000,10000,20000,35000], "format": "d", "title": "Net response (MFI - blank)", "tickSize": 6, "labelPadding": 2, "titlePadding": 8}}}},
      {"data": {"name": "pts"}, "transform": [{"filter": "datum.p == 'b'"}], "mark": {"type": "point", "opacity": 1, "strokeWidth": 1},
       "encoding": {
         "y": {"field": "y", "type": "quantitative", "scale": {"type": "log", "domain": [81.5, 57450], "nice": false}, "axis": {"values": [100,1000,2000,3000,5000,10000,20000,35000], "format": "d", "title": "Net response (MFI - blank)", "tickSize": 6, "labelPadding": 2, "titlePadding": 8}},
         "fill": {"field": "c", "type": "nominal", "scale": {"domain": ["Placebo","H4:IC31","H56:IC31","BCG","Negative"], "range": ["#777777","#1E4BFF","#D92424","#17B8CC","transparent"]}, "legend": null},
         "stroke": {"field": "c", "type": "nominal", "scale": {"domain": ["Placebo","H4:IC31","H56:IC31","BCG","Negative"], "range": ["#777777","#1E4BFF","#D92424","#17B8CC","#8C8C8C"]}, "legend": null},
         "shape": {"field": "c", "type": "nominal", "scale": {"domain": ["Placebo","H4:IC31","H56:IC31","BCG","Negative"], "range": ["circle","circle","circle","circle","triangle-up"]}, "legend": null},
         "size": {"field": "c", "type": "nominal", "scale": {"domain": ["Placebo","H4:IC31","H56:IC31","BCG","Negative"], "range": [30,30,30,30,55]}, "legend": null}
       }}
    ]
   },
   {
    "data": {"name": "cats"}, "transform": [{"filter": "datum.p == 'b'"}],
    "width": 658, "height": 25, "view": {"stroke": null},
    "encoding": {
      "x": {"field": "g", "type": "nominal", "sort": null, "scale": {"domain": ["Placebo","H4","H56","BCG"], "paddingInner": 0.116, "paddingOuter": 0.0165}, "axis": {"orient": "bottom", "domain": false, "ticks": false, "labelPadding": 9, "labelAngle": 0, "title": "Day", "titlePadding": 0}}
    },
    "layer": [
      {"mark": {"type": "text", "fontSize": 13, "baseline": "middle"}, "encoding": {"xOffset": {"field": "v", "type": "ordinal", "scale": {"domain": [1,2,3], "paddingInner": 0.2, "paddingOuter": 0.1}}, "y": {"datum": "day", "type": "nominal", "scale": {"type": "point", "domain": ["day","line"], "padding": 0.889, "align": 1}, "axis": null}, "text": {"field": "day", "type": "nominal"}}},
      {"mark": {"type": "tick", "orient": "horizontal", "size": 139, "thickness": 1.1, "color": "black", "opacity": 1}, "encoding": {"y": {"datum": "line", "type": "nominal", "scale": {"type": "point", "domain": ["day","line"], "padding": 0.889, "align": 1}, "axis": null}}}
    ]
   },
   {
    "data": {"name": "leg"},
    "width": 486, "height": 70, "view": {"stroke": null},
    "encoding": {
      "x": {"field": "c", "type": "nominal", "sort": null, "scale": {"type": "point", "domain": ["Placebo","H4:IC31","H56:IC31","BCG","Negative"], "padding": 1, "align": 0.815}, "axis": null},
      "y": {"datum": "legend", "type": "nominal", "scale": {"type": "point", "domain": ["legend"], "padding": 0.5, "align": 0.9}, "axis": null}
    },
    "layer": [
      {"mark": {"type": "point", "opacity": 1, "strokeWidth": 1},
       "encoding": {
         "fill": {"field": "c", "type": "nominal", "scale": {"domain": ["Placebo","H4:IC31","H56:IC31","BCG","Negative"], "range": ["#777777","#1E4BFF","#D92424","#17B8CC","transparent"]}, "legend": null},
         "stroke": {"field": "c", "type": "nominal", "scale": {"domain": ["Placebo","H4:IC31","H56:IC31","BCG","Negative"], "range": ["#777777","#1E4BFF","#D92424","#17B8CC","#8C8C8C"]}, "legend": null},
         "shape": {"field": "c", "type": "nominal", "scale": {"domain": ["Placebo","H4:IC31","H56:IC31","BCG","Negative"], "range": ["circle","circle","circle","circle","triangle-up"]}, "legend": null},
         "size": {"condition": {"test": "datum.c == 'Negative'", "value": 95}, "value": 55}
       }},
      {"mark": {"type": "text", "align": "left", "baseline": "middle", "dx": 8, "fontSize": 14.5, "color": "black"},
       "encoding": {"text": {"field": "c", "type": "nominal"}}}
    ]
   }
  ]
 }
]
}
